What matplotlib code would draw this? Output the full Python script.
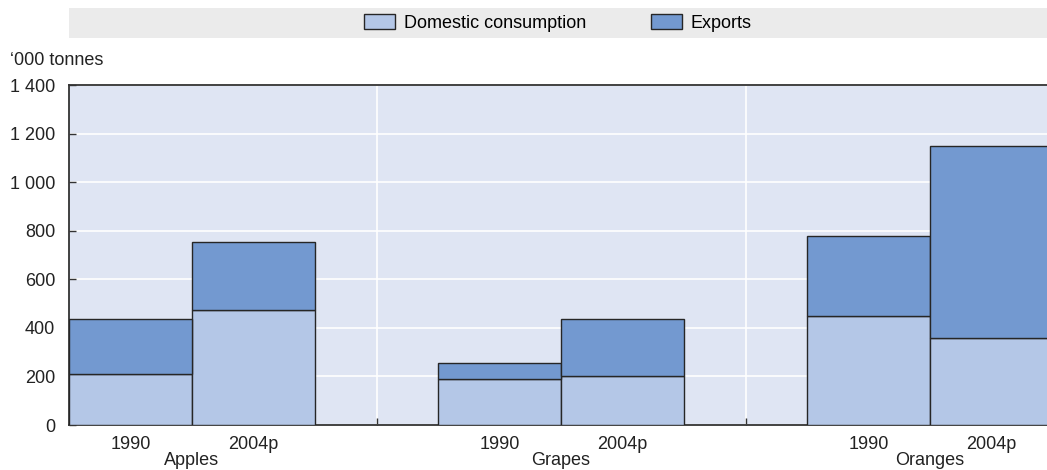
import numpy as np
import matplotlib.pyplot as plt
from matplotlib.patches import Patch
from matplotlib.ticker import FuncFormatter

plt.rcParams['font.family'] = ['Liberation Sans', 'DejaVu Sans']

fruits = ['Apples', 'Grapes', 'Oranges']
years = ['1990', '2004p']
domestic = [210, 475, 190, 200, 447, 360]
exports = [225, 280, 65, 235, 330, 790]

light = '#b4c7e7'
dark = '#7399d0'
edge = '#262626'
fs = 13

fig = plt.figure(figsize=(10.47, 4.70), dpi=100)
# plot area runs slightly past the right edge of the picture, as in the source
ax = fig.add_axes([0.0659, 0.0957, 0.940, 0.7234])
ax.set_facecolor('#dfe5f3')

# slot positions: two bars per fruit, one empty slot between fruits
pos = []
for i in range(len(fruits)):
    pos += [i * 3, i * 3 + 1]
pos = np.array(pos)

ax.bar(pos, domestic, width=1.0, color=light, edgecolor=edge, linewidth=1.0, zorder=3)
ax.bar(pos, exports, width=1.0, bottom=domestic, color=dark, edgecolor=edge, linewidth=1.0, zorder=3)

ax.set_xlim(-0.5, 7.5)
ax.set_ylim(0, 1400)
ax.set_yticks(range(0, 1401, 200))
ax.yaxis.set_major_formatter(FuncFormatter(lambda v, p: f'{int(v):,}'.replace(',', ' ')))
ax.yaxis.grid(True, color='white', linewidth=1.2, zorder=0)
for sep in [2, 5]:
    ax.axvline(sep, color='white', linewidth=1.2, zorder=1)

ax.set_xticks([2, 5])
ax.set_xticklabels([])
ax.tick_params(axis='x', direction='in', length=5, color='#333333', width=1)
ax.tick_params(axis='y', direction='in', length=5, color='#333333', width=1,
               labelsize=fs, pad=10, labelcolor='#222222')

ax.spines['right'].set_visible(False)
for s in ['left', 'bottom', 'top']:
    ax.spines[s].set_color('#333333')
    ax.spines[s].set_linewidth(1.3)

# year and fruit labels
for i, p in enumerate(pos):
    ax.text(p, -80, years[i % 2], ha='center', va='center', fontsize=fs, color='#222222')
for i, f in enumerate(fruits):
    ax.text(i * 3 + 0.5, -145, f, ha='center', va='center', fontsize=fs, color='#222222')

fig.text(0.01, 0.872, "\u2018000 tonnes", fontsize=fs, ha='left', va='center', color='#222222')

# legend band
band = fig.add_axes([0.0659, 0.919, 0.9341, 0.064])
band.set_facecolor('#ebebeb')
band.set_xticks([])
band.set_yticks([])
for s in band.spines.values():
    s.set_visible(False)
handles = [Patch(facecolor=light, edgecolor=edge, label='Domestic consumption'),
           Patch(facecolor=dark, edgecolor=edge, label='Exports')]
band.legend(handles=handles, loc='center', ncol=2, frameon=False, fontsize=fs,
            handlelength=1.7, handleheight=0.9, columnspacing=3.6, handletextpad=0.5)

fig.savefig('out.png', dpi=100)
